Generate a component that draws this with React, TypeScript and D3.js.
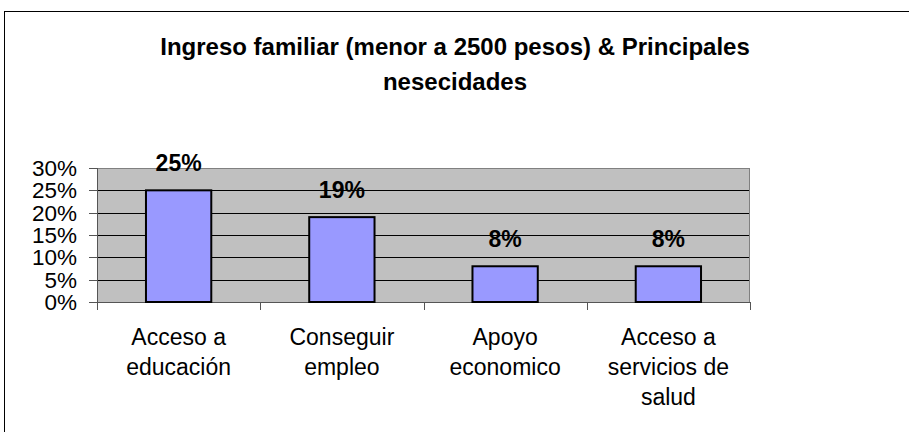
import React from "react";
import * as d3 from "d3";

const categories: string[][] = [
  ["Acceso a", "educación"],
  ["Conseguir", "empleo"],
  ["Apoyo", "economico"],
  ["Acceso a", "servicios de", "salud"],
];
const values: number[] = [25, 19, 8, 8];
const yTicks: number[] = [0, 5, 10, 15, 20, 25, 30];
const titleLines: string[] = [
  "Ingreso familiar (menor a 2500 pesos) & Principales",
  "nesecidades",
];

const W = 909;
const H = 432;
const plot = { left: 97, right: 750, top: 168, bottom: 302 };
const FONT = "'Liberation Sans', Arial, Helvetica, sans-serif";

export default function App() {
  const keys = categories.map((_, i) => String(i));
  const x = d3
    .scaleBand<string>()
    .domain(keys)
    .range([plot.left, plot.right])
    .paddingInner(0.6)
    .paddingOuter(0.3);
  const y = d3.scaleLinear().domain([0, 30]).range([plot.bottom, plot.top]);
  const step = x.step();
  const boundaries = d3.range(categories.length + 1).map((i) => plot.left + i * step);

  return (
    <svg
      width={W}
      height={H}
      style={{ position: "absolute", left: 0, top: 0, background: "#fff" }}
      fontFamily={FONT}
    >
      <rect x={4.5} y={11.5} width={W + 10} height={H + 10} fill="#fff" stroke="#000" strokeWidth={1} />
      {titleLines.map((t, i) => (
        <text
          key={i}
          x={455}
          y={55 + i * 35}
          textAnchor="middle"
          fontSize={24}
          fontWeight="bold"
          fill="#000"
        >
          {t}
        </text>
      ))}
      <rect
        x={plot.left}
        y={plot.top}
        width={plot.right - plot.left}
        height={plot.bottom - plot.top}
        fill="#C0C0C0"
      />
      {yTicks.slice(1, -1).map((t) => (
        <line
          key={t}
          x1={plot.left}
          x2={plot.right}
          y1={Math.round(y(t)) + 0.5}
          y2={Math.round(y(t)) + 0.5}
          stroke="#000"
          strokeWidth={1}
        />
      ))}
      <rect
        x={plot.left + 0.5}
        y={plot.top + 0.5}
        width={plot.right - plot.left - 1}
        height={plot.bottom - plot.top}
        fill="none"
        stroke="#808080"
        strokeWidth={1}
      />
      {/* y axis */}
      <line x1={plot.left + 0.5} x2={plot.left + 0.5} y1={plot.top} y2={plot.bottom} stroke="#555" />
      {yTicks.map((t) => (
        <g key={t}>
          <line
            x1={plot.left - 8}
            x2={plot.left}
            y1={Math.round(y(t)) + 0.5}
            y2={Math.round(y(t)) + 0.5}
            stroke="#555"
          />
          <text
            x={77}
            y={y(t) + 8}
            textAnchor="end"
            fontSize={22.5}
            fill="#000"
          >
            {t}%
          </text>
        </g>
      ))}
      {/* x axis */}
      <line x1={plot.left} x2={plot.right} y1={plot.bottom + 0.5} y2={plot.bottom + 0.5} stroke="#555" />
      {boundaries.map((b, i) => (
        <line
          key={i}
          x1={Math.round(b) + 0.5}
          x2={Math.round(b) + 0.5}
          y1={plot.bottom}
          y2={plot.bottom + 8}
          stroke="#555"
        />
      ))}
      {values.map((v, i) => {
        const bx = x(String(i))!;
        const bw = x.bandwidth();
        return (
          <g key={i}>
            <rect
              x={bx}
              y={y(v)}
              width={bw}
              height={plot.bottom - y(v)}
              fill="#9999FF"
              stroke="#000"
              strokeWidth={2}
            />
            <text
              x={bx + bw / 2}
              y={y(v) - 19}
              textAnchor="middle"
              fontSize={23}
              fontWeight="bold"
              fill="#000"
            >
              {v}%
            </text>
          </g>
        );
      })}
      {categories.map((lines, i) => {
        const cx = x(String(i))! + x.bandwidth() / 2;
        return (
          <text key={i} textAnchor="middle" fontSize={23} fill="#000">
            {lines.map((l, j) => (
              <tspan key={j} x={cx} y={345 + j * 30}>
                {l}
              </tspan>
            ))}
          </text>
        );
      })}
    </svg>
  );
}
